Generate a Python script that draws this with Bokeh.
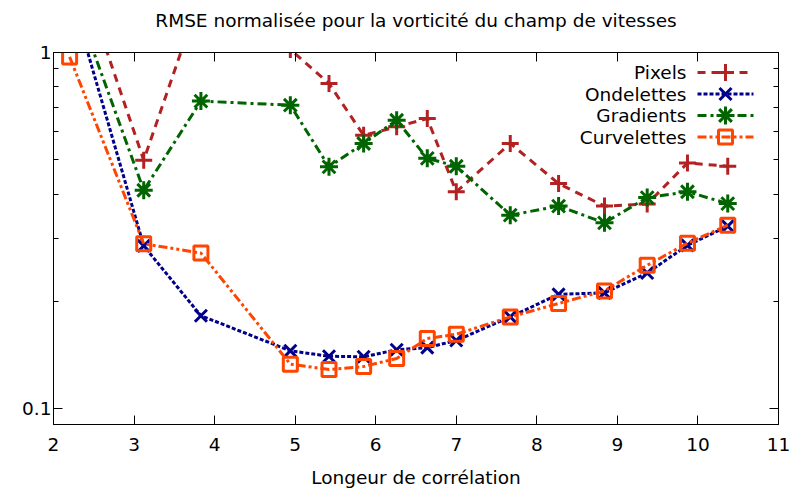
from math import log10

from bokeh.plotting import figure
from bokeh.models import FixedTicker, LinearAxis, LogAxis, CustomJSTickFormatter, Range1d
from bokeh.core.properties import value
from bokeh.embed import file_html
from bokeh.resources import INLINE

# Correlation lengths at which each method was evaluated
correlation_length = [2.20, 3.12, 3.83, 4.94, 5.42, 5.85, 6.26, 6.64, 7.00,
                      7.67, 8.27, 8.84, 9.37, 9.87, 10.37]

# Normalised RMSE of the velocity-field vorticity, per method
rmse_pixels = [2.05, 0.498, 1.46, 1.02, 0.818, 0.585, 0.618, 0.652, 0.406,
               0.555, 0.428, 0.370, 0.375, 0.489, 0.479]
rmse_ondelettes = [1.50, 0.286, 0.182, 0.145, 0.140, 0.1395, 0.146, 0.148, 0.155,
                   0.1806, 0.209, 0.211, 0.240, 0.287, 0.325]
rmse_gradients = [1.54, 0.410, 0.730, 0.711, 0.477, 0.555, 0.645, 0.504, 0.479,
                  0.349, 0.370, 0.332, 0.391, 0.406, 0.376]
rmse_curvelettes = [0.972, 0.290, 0.273, 0.133, 0.1285, 0.131, 0.138, 0.157, 0.1614,
                    0.1806, 0.197, 0.2137, 0.2523, 0.291, 0.327]

series_names = ["Pixels", "Ondelettes", "Gradients", "Curvelettes"]

x_ticks = [2, 3, 4, 5, 6, 7, 8, 9, 10, 11]
y_ticks = [0.1, 1]
y_minor_ticks = [0.2, 0.3, 0.4, 0.5, 0.6, 0.7, 0.8, 0.9]

TITLE = "RMSE normalisée pour la vorticité du champ de vitesses"
X_LABEL = "Longeur de corrélation"

# ---- layout and style -------------------------------------------------------
W, H = 795, 490
LEFT, RIGHT, TOP, BOTTOM = 53, 17, 52, 66
FRAME_W = W - LEFT - RIGHT
FRAME_H = H - TOP - BOTTOM
X0, X1 = 2, 11
Y0, Y1 = 0.09, 1.0
FONT = "DejaVu Sans"
FONT_SIZE = "18.5px"

styles = [
    dict(color="#b22222", dash="8 6", marker="cross", size=17),
    dict(color="#00008b", dash="4 2", marker="x", size=17),
    dict(color="#006400", dash="9 4 3 4", marker="asterisk", size=18),
    dict(color="#ff4500", dash="9 3 3 3 3 3", marker="square", size=14),
]
series = [rmse_pixels, rmse_ondelettes, rmse_gradients, rmse_curvelettes]

p = figure(width=W, height=H,
           x_range=Range1d(X0, X1), y_range=Range1d(Y0, Y1),
           y_axis_type="log",
           output_backend="svg", toolbar_location=None,
           min_border_left=LEFT, min_border_right=RIGHT,
           min_border_top=TOP, min_border_bottom=BOTTOM,
           background_fill_color="white", border_fill_color="white")
p.title = None

p.outline_line_color = "black"
p.outline_line_width = 1
p.xgrid.visible = False
p.ygrid.visible = False

x_ticker = FixedTicker(ticks=x_ticks, minor_ticks=[])
y_ticker = FixedTicker(ticks=y_ticks, minor_ticks=y_minor_ticks)
blank = CustomJSTickFormatter(code="return ''")


def style_axis(ax, labelled):
    ax.axis_line_color = "black"
    ax.axis_line_width = 1
    ax.major_tick_in = 9
    ax.major_tick_out = 0
    ax.minor_tick_in = 5
    ax.minor_tick_out = 0
    ax.major_tick_line_color = "black"
    ax.minor_tick_line_color = "black"
    ax.major_tick_line_width = 1
    ax.minor_tick_line_width = 1
    ax.major_label_text_font = FONT
    ax.major_label_text_color = "black"
    ax.axis_label_text_font = FONT
    ax.axis_label_text_font_size = FONT_SIZE
    ax.axis_label_text_font_style = "normal"
    ax.axis_label_text_color = "black"
    if labelled:
        ax.major_label_text_font_size = FONT_SIZE
    else:
        ax.formatter = blank
        ax.major_label_text_font_size = "0px"
        ax.major_label_standoff = 0


# bottom axis: tick values and the axis title
xaxis = p.xaxis[0]
xaxis.ticker = x_ticker
style_axis(xaxis, True)
xaxis.major_label_standoff = 13
xaxis.axis_label = X_LABEL
xaxis.axis_label_standoff = 13

yaxis = p.yaxis[0]
yaxis.ticker = y_ticker
yaxis.formatter = CustomJSTickFormatter(code="return String(tick)")
style_axis(yaxis, True)
yaxis.major_label_standoff = 2

# mirrored tick marks along the top edge; its label carries the chart title
top_axis = LinearAxis(ticker=x_ticker)
style_axis(top_axis, False)
top_axis.axis_label = TITLE
top_axis.axis_label_standoff = 22
p.add_layout(top_axis, "above")

# mirrored tick marks along the right edge
right_axis = LogAxis(ticker=y_ticker)
style_axis(right_axis, False)
p.add_layout(right_axis, "right")


# ---- helpers: screen pixel -> data coordinate -------------------------------
def data_x(px):
    return X0 + (px - LEFT) / FRAME_W * (X1 - X0)


def data_y(py):
    return 10 ** (log10(Y1) - (py - TOP) / FRAME_H * (log10(Y1) - log10(Y0)))


# ---- data series ------------------------------------------------------------
for values, st in zip(series, styles):
    p.line(correlation_length, values, line_color=st["color"], line_width=3,
           line_dash=st["dash"])
    p.scatter(correlation_length, values, marker=st["marker"], size=st["size"],
              line_color=st["color"], line_width=3, fill_color=None)

# ---- key, placed in screen pixels inside the frame -------------------------
KEY_TOP, KEY_STEP = 72, 21.5
KEY_TEXT_RIGHT, KEY_LINE_L, KEY_LINE_R, KEY_MARK = 686, 697, 753, 725

key_y = [data_y(KEY_TOP + i * KEY_STEP) for i in range(len(series_names))]
p.text(x=[data_x(KEY_TEXT_RIGHT)] * len(series_names), y=key_y, text=series_names,
       text_align="right", text_baseline="middle",
       text_font=value(FONT), text_font_size=FONT_SIZE, text_color="black")

for ky, st in zip(key_y, styles):
    p.line([data_x(KEY_LINE_L), data_x(KEY_LINE_R)], [ky, ky],
           line_color=st["color"], line_width=3, line_dash=st["dash"])
    p.scatter([data_x(KEY_MARK)], [ky], marker=st["marker"], size=st["size"],
              line_color=st["color"], line_width=3, fill_color=None)

open("out.html", "w").write(file_html(p, INLINE))
